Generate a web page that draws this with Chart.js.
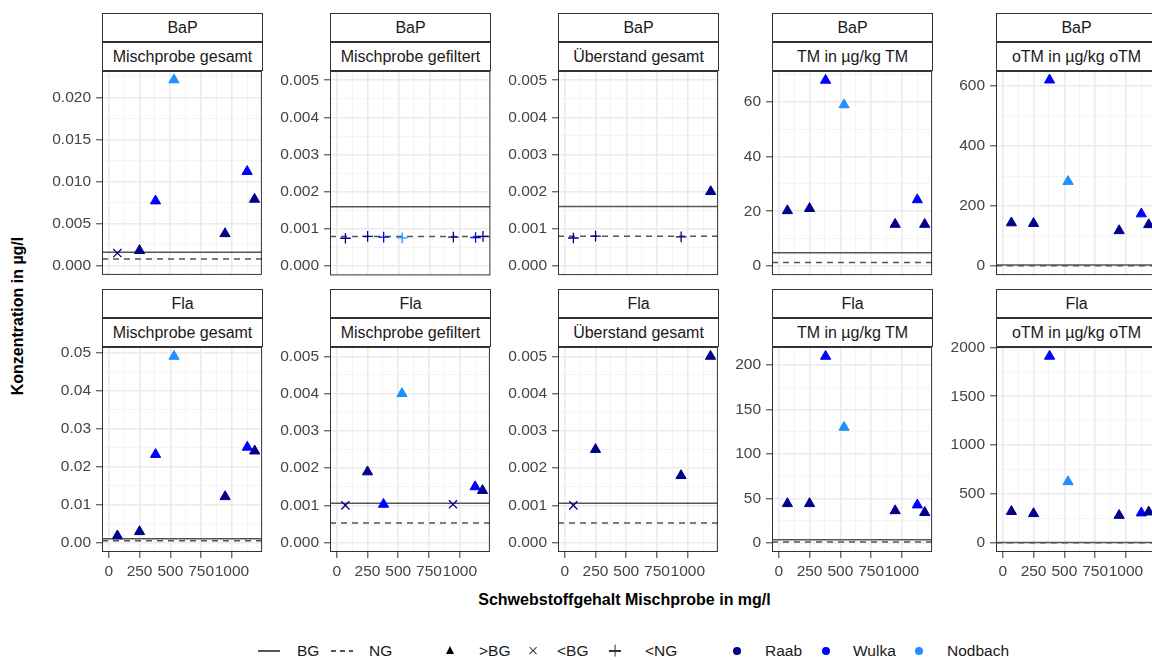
<!DOCTYPE html>
<html>
<head>
<meta charset="utf-8">
<script src="https://cdn.jsdelivr.net/npm/chart.js@4.4.1/dist/chart.umd.min.js"></script>
<style>
  html, body { margin: 0; padding: 0; background: #fff; }
  body {
    width: 1152px; height: 660px; overflow: hidden; position: relative;
    font-family: "Liberation Sans", Arial, sans-serif;
  }
  .strip {
    position: absolute; box-sizing: border-box; border: 1px solid #333;
    background: #fff; color: #1a1a1a; font-size: 16px;
    display: flex; align-items: center; justify-content: center; white-space: nowrap;
  }
  canvas { position: absolute; }
  .txt { position: absolute; white-space: nowrap; line-height: 1; }
  .title { font-weight: bold; font-size: 16px; color: #000; }
  .leg { font-size: 15.5px; color: #1a1a1a; transform: translateY(-50%); }
</style>
</head>
<body>
<script>
  // x positions (Schwebstoffgehalt in mg/l) and site of each sample
  const sampleX = [70, 250, 380, 530, 945, 1125, 1185];
  const sampleSite = ["Raab", "Raab", "Wulka", "Nodbach", "Raab", "Wulka", "Raab"];

  const substances = ["BaP", "Fla"];
  const panelTitles = [
    "Mischprobe gesamt",
    "Mischprobe gefiltert",
    "Überstand gesamt",
    "TM in µg/kg TM",
    "oTM in µg/kg oTM",
  ];

  // BaP values (null = no sample)
  const bapMischGesamt = [0.0015, 0.0018, 0.0077, 0.0221, 0.0038, 0.0112, 0.0079];
  const bapMischGesamtFlag = ["<BG", ">BG", ">BG", ">BG", ">BG", ">BG", ">BG"];
  const bapMischFilt = [0.00075, 0.0008, 0.00078, 0.00076, 0.00078, 0.00077, 0.0008];
  const bapMischFiltFlag = ["<NG", "<NG", "<NG", "<NG", "<NG", "<NG", "<NG"];
  const bapUeberstand = [0.00075, 0.0008, null, null, 0.00078, null, 0.002];
  const bapUeberstandFlag = ["<NG", "<NG", null, null, "<NG", null, ">BG"];
  const bapTM = [20.2, 21, 68, 59, 15.2, 24.2, 15.2];
  const bapOTM = [144, 142, 620, 282, 118, 174, 138];
  const allAboveBG = [">BG", ">BG", ">BG", ">BG", ">BG", ">BG", ">BG"];

  // Fla values
  const flaMischGesamt = [0.0018, 0.0029, 0.0232, 0.049, 0.0121, 0.0251, 0.0241];
  const flaMischFilt = [0.001, 0.0019, 0.00103, 0.004, 0.00103, 0.0015, 0.0014];
  const flaMischFiltFlag = ["<BG", ">BG", ">BG", ">BG", "<BG", ">BG", ">BG"];
  const flaUeberstand = [0.001, 0.0025, null, null, 0.0018, null, 0.005];
  const flaUeberstandFlag = ["<BG", ">BG", null, null, ">BG", null, ">BG"];
  const flaTM = [44, 44, 210, 130, 36, 42.5, 34];
  const flaOTM = [320, 298, 1910, 625, 280, 305, 315];

  // Bestimmungsgrenze / Nachweisgrenze per panel
  const bgBaP = [0.0016, 0.0016, 0.0016, 4.8, 4];
  const ngBaP = [0.0008, 0.0008, 0.0008, 1.2, 1];
  const bgFla = [0.00106, 0.00106, 0.00106, 3.4, 3];
  const ngFla = [0.00053, 0.00053, 0.00053, 0.8, 1];

  // axis limits and ticks
  const xMin = -55;
  const xMax = 1245;
  const xTicks = [0, 250, 500, 750, 1000];
  const yMinBaP = [-0.0011, -0.00025, -0.00025, -3.4, -30];
  const yMaxBaP = [0.02316, 0.00525, 0.00525, 71.4, 650];
  const yMinFla = [-0.00245, -0.00025, -0.00025, -10.5, -95];
  const yMaxFla = [0.05145, 0.00525, 0.00525, 220.5, 2005];
  const yTicksBaP = [
    [0, 0.005, 0.01, 0.015, 0.02],
    [0, 0.001, 0.002, 0.003, 0.004, 0.005],
    [0, 0.001, 0.002, 0.003, 0.004, 0.005],
    [0, 20, 40, 60],
    [0, 200, 400, 600],
  ];
  const yTicksFla = [
    [0, 0.01, 0.02, 0.03, 0.04, 0.05],
    [0, 0.001, 0.002, 0.003, 0.004, 0.005],
    [0, 0.001, 0.002, 0.003, 0.004, 0.005],
    [0, 50, 100, 150, 200],
    [0, 500, 1000, 1500, 2000],
  ];
  const decimalsBaP = [3, 3, 3, 0, 0];
  const decimalsFla = [2, 3, 3, 0, 0];

  const siteColors = { Raab: "#00008B", Wulka: "#0000FF", Nodbach: "#1E90FF" };
  const flagStyle = { ">BG": "triangle", "<BG": "crossRot", "<NG": "cross" };
  const flagRadius = { ">BG": 5.9, "<BG": 5.8, "<NG": 5.3 };

  // layout of the facet grid (pixels)
  const PANEL_LEFT = [102, 330, 558, 772, 996];
  const PANEL_W = 161;
  const PLOT_TOP = [71, 347];
  const PLOT_H = 205;
  const STRIP_TOP = [13, 289];
  const STRIP_H = 29;
  const AXIS_W = 70;
  const PAD_TOP = 14;

  const rows = [
    {
      values: [bapMischGesamt, bapMischFilt, bapUeberstand, bapTM, bapOTM],
      flags: [bapMischGesamtFlag, bapMischFiltFlag, bapUeberstandFlag, allAboveBG, allAboveBG],
      bg: bgBaP, ng: ngBaP, yMin: yMinBaP, yMax: yMaxBaP, yTicks: yTicksBaP, dec: decimalsBaP,
    },
    {
      values: [flaMischGesamt, flaMischFilt, flaUeberstand, flaTM, flaOTM],
      flags: [allAboveBG, flaMischFiltFlag, flaUeberstandFlag, allAboveBG, allAboveBG],
      bg: bgFla, ng: ngFla, yMin: yMinFla, yMax: yMaxFla, yTicks: yTicksFla, dec: decimalsFla,
    },
  ];

  const FONT = "'Liberation Sans', Arial, sans-serif";

  function withMinor(major, min, max) {
    const out = major.map((v) => ({ value: v, minor: false }));
    const step = major[1] - major[0];
    const mids = major.slice(0, -1).map((v, i) => (v + major[i + 1]) / 2);
    mids.push(major[0] - step / 2, major[major.length - 1] + step / 2);
    mids.filter((v) => v > min && v < max).forEach((v) => out.push({ value: v, minor: true }));
    return out.sort((a, b) => a.value - b.value);
  }

  const panelBox = {
    id: "panelBox",
    afterDatasetsDraw(chart) {
      const { ctx, chartArea: a } = chart;
      ctx.save();
      ctx.strokeStyle = "#333";
      ctx.lineWidth = 1;
      ctx.strokeRect(a.left + 0.5, a.top + 0.5, a.right - a.left - 1, a.bottom - a.top - 1);
      ctx.restore();
    },
  };

  function gridOpts(withTicks) {
    return {
      color: (c) => (c.tick && c.tick.minor ? "#F4F4F4" : "#EBEBEB"),
      lineWidth: (c) => (c.tick && c.tick.minor ? 1 : 1.6),
      drawTicks: withTicks,
      tickLength: 6,
      tickColor: (c) => (c.tick && c.tick.minor ? "rgba(0,0,0,0)" : "#333"),
      tickWidth: 1,
    };
  }

  function addDiv(cls, text, style) {
    const d = document.createElement("div");
    d.className = cls;
    d.textContent = text;
    Object.assign(d.style, style);
    document.body.appendChild(d);
    return d;
  }

  function buildPanel(r, c) {
    const row = rows[r];
    const vals = row.values[c];
    const flags = row.flags[c];
    const isBottom = r === 1;

    // strips
    addDiv("strip", substances[r], {
      left: PANEL_LEFT[c] + "px", top: STRIP_TOP[r] + "px",
      width: PANEL_W + "px", height: STRIP_H + "px",
    });
    addDiv("strip", panelTitles[c], {
      left: PANEL_LEFT[c] + "px", top: STRIP_TOP[r] + STRIP_H + "px",
      width: PANEL_W + "px", height: STRIP_H + "px",
    });

    const xh = isBottom ? 30 : 6;
    const canvas = document.createElement("canvas");
    canvas.width = AXIS_W + PANEL_W + 6;
    canvas.height = PAD_TOP + PLOT_H + xh;
    canvas.style.left = PANEL_LEFT[c] - AXIS_W + "px";
    canvas.style.top = PLOT_TOP[r] - PAD_TOP + "px";
    document.body.appendChild(canvas);

    const pts = [];
    const styles = [];
    const colors = [];
    const radii = [];
    const widths = [];
    vals.forEach((v, i) => {
      if (v === null) return;
      pts.push({ x: sampleX[i], y: v });
      styles.push(flagStyle[flags[i]]);
      colors.push(siteColors[sampleSite[i]]);
      radii.push(flagRadius[flags[i]]);
      widths.push(flags[i] === ">BG" ? 1 : 1.3);
    });

    const yMin = row.yMin[c];
    const yMax = row.yMax[c];
    const yTickList = withMinor(row.yTicks[c], yMin, yMax);
    const xTickList = withMinor(xTicks, xMin, xMax);
    const dec = row.dec[c];

    new Chart(canvas, {
      type: "scatter",
      data: {
        datasets: [
          {
            data: pts,
            pointStyle: styles,
            pointBackgroundColor: colors,
            pointBorderColor: colors,
            pointRadius: radii,
            pointBorderWidth: widths,
          },
          {
            data: [{ x: xMin, y: row.bg[c] }, { x: xMax, y: row.bg[c] }],
            showLine: true,
            borderColor: "#555",
            borderWidth: 1.5,
            pointRadius: 0,
          },
          {
            data: [{ x: xMin, y: row.ng[c] }, { x: xMax, y: row.ng[c] }],
            showLine: true,
            borderColor: "#555",
            borderWidth: 1.5,
            borderDash: [6, 5],
            pointRadius: 0,
          },
        ],
      },
      options: {
        responsive: false,
        devicePixelRatio: 1,
        animation: false,
        events: [],
        layout: { padding: { left: 0, right: 6, top: PAD_TOP, bottom: 0 } },
        plugins: { legend: { display: false }, tooltip: { enabled: false } },
        scales: {
          x: {
            type: "linear",
            min: xMin,
            max: xMax,
            afterBuildTicks: (s) => { s.ticks = xTickList.map((t) => ({ ...t })); },
            afterFit: (s) => { s.height = xh; s.paddingLeft = 0; s.paddingRight = 0; },
            border: { display: false },
            grid: gridOpts(isBottom),
            ticks: {
              display: isBottom,
              autoSkip: false,
              maxRotation: 0,
              minRotation: 0,
              padding: 4,
              color: "#444",
              font: { family: FONT, size: 15.5 },
              callback: (v, i, t) => (t[i].minor ? "" : String(v)),
            },
          },
          y: {
            type: "linear",
            min: yMin,
            max: yMax,
            afterBuildTicks: (s) => { s.ticks = yTickList.map((t) => ({ ...t })); },
            afterFit: (s) => { s.width = AXIS_W; s.paddingTop = 0; s.paddingBottom = 0; },
            border: { display: false },
            grid: gridOpts(true),
            ticks: {
              autoSkip: false,
              padding: 5,
              color: "#444",
              font: { family: FONT, size: 15.5 },
              callback: (v, i, t) => (t[i].minor ? "" : Number(v).toFixed(dec)),
            },
          },
        },
      },
      plugins: [panelBox],
    });
  }

  for (let r = 0; r < 2; r++) {
    for (let c = 0; c < 5; c++) buildPanel(r, c);
  }

  // axis titles
  addDiv("txt title", "Schwebstoffgehalt Mischprobe in mg/l", {
    left: "624.5px", top: "600px", transform: "translate(-50%, -50%)",
  });
  addDiv("txt title", "Konzentration in µg/l", {
    left: "18px", top: "316px", transform: "translate(-50%, -50%) rotate(-90deg)",
  });

  // legend
  const LEG_Y = 651;

  function legendCross(cx, angle, len) {
    [0, 90].forEach((a) => {
      addDiv("txt", "", {
        left: cx - len / 2 + "px", top: LEG_Y - 0.6 + "px",
        width: len + "px", height: "1.2px", background: "#333",
        transform: "rotate(" + (angle + a) + "deg)",
      });
    });
  }

  addDiv("txt", "", {
    left: "258px", top: LEG_Y - 1 + "px", width: "22px", height: "1.5px", background: "#555",
  });
  addDiv("txt leg", "BG", { left: "297px", top: LEG_Y + "px" });
  addDiv("txt", "", {
    left: "331px", top: LEG_Y - 1 + "px", width: "22px", height: "1.5px",
    background: "repeating-linear-gradient(to right, #555 0 5px, transparent 5px 9px)",
  });
  addDiv("txt leg", "NG", { left: "369px", top: LEG_Y + "px" });
  addDiv("txt", "", {
    left: "445.5px", top: LEG_Y - 5 + "px", width: "0", height: "0",
    borderLeft: "4.5px solid transparent", borderRight: "4.5px solid transparent",
    borderBottom: "8px solid #000",
  });
  addDiv("txt leg", ">BG", { left: "479px", top: LEG_Y + "px" });
  legendCross(533, 45, 10);
  addDiv("txt leg", "<BG", { left: "557px", top: LEG_Y + "px" });
  legendCross(615, 0, 12);
  addDiv("txt leg", "<NG", { left: "645px", top: LEG_Y + "px" });
  const legSites = [
    ["Raab", 737, 765],
    ["Wulka", 826, 853],
    ["Nodbach", 919, 947],
  ];
  legSites.forEach(([name, dotX, textX]) => {
    addDiv("txt", "", {
      left: dotX - 4 + "px", top: LEG_Y - 4 + "px", width: "8px", height: "8px",
      borderRadius: "50%", background: siteColors[name],
    });
    addDiv("txt leg", name, { left: textX + "px", top: LEG_Y + "px" });
  });
</script>
</body>
</html>
